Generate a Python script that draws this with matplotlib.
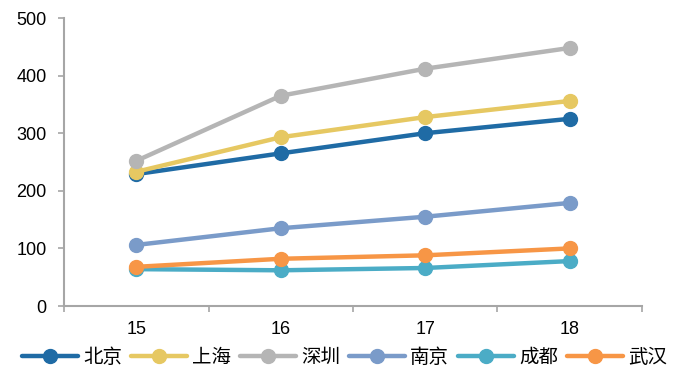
import numpy as np
import matplotlib.pyplot as plt
from matplotlib.ticker import FixedLocator

plt.rcParams['font.family'] = ['Liberation Sans', 'Noto Sans CJK SC', 'DejaVu Sans']

# 数据
years = ['15', '16', '17', '18']
beijing = [229, 265, 300, 325]
shanghai = [233, 293, 328, 356]
shenzhen = [252, 365, 412, 448]
nanjing = [106, 135, 155, 179]
chengdu = [64, 62, 66, 78]
wuhan = [68, 82, 88, 100]

series = [('北京', beijing, '#1F6BA5'), ('上海', shanghai, '#E6C862'),
          ('深圳', shenzhen, '#B5B5B5'), ('南京', nanjing, '#7A9BC9'),
          ('成都', chengdu, '#4BACC6'), ('武汉', wuhan, '#F79646')]

fig = plt.figure(figsize=(6.78, 3.72), dpi=100)
ax = fig.add_axes([0.0944, 0.1774, 0.8525, 0.7742])
x = np.arange(len(years))

for name, vals, c in series:
    ax.plot(x, vals, color=c, lw=3.2, marker='o', markersize=10,
            solid_capstyle='round', label=name)

ax.set_xlim(-0.5, len(years) - 0.5)
ax.set_ylim(0, 500)
ax.set_yticks(range(0, 501, 100))
ax.set_xticks(x)
ax.set_xticklabels(years)
ax.xaxis.set_minor_locator(FixedLocator(np.arange(-0.5, len(years), 1)))
ax.tick_params(axis='x', which='major', length=0, pad=11, labelsize=13)
ax.tick_params(axis='x', which='minor', length=4.5, color='#A6A6A6', width=1.2)
ax.tick_params(axis='y', length=4.5, color='#A6A6A6', width=1.2, labelsize=13, pad=8)

for s in ['top', 'right']:
    ax.spines[s].set_visible(False)
for s in ['left', 'bottom']:
    ax.spines[s].set_color('#A6A6A6')
    ax.spines[s].set_linewidth(1.5)

fig.legend(loc='center', bbox_to_anchor=(0.508, 0.04), ncol=6, frameon=False,
           handlelength=2.9, handletextpad=0.25, columnspacing=0.45,
           prop={'family': ['Noto Sans CJK SC'], 'size': 14})

fig.savefig('out.png', dpi=100)
